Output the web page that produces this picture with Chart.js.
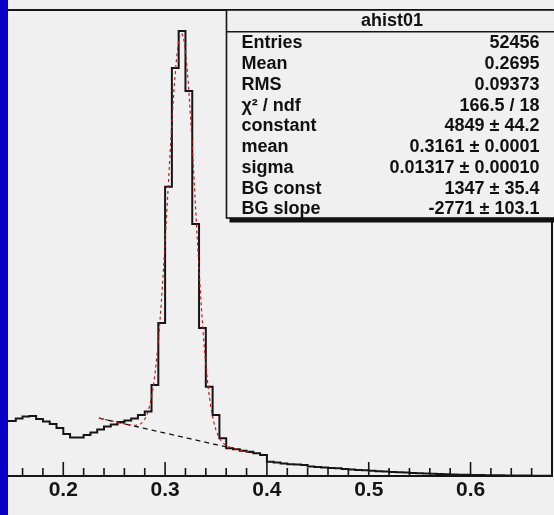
<!DOCTYPE html>
<html>
<head>
<meta charset="utf-8">
<script src="https://cdn.jsdelivr.net/npm/chart.js@4.4.1/dist/chart.umd.min.js"></script>
<style>
  html, body { margin: 0; padding: 0; background: #f0f0f0; }
  #wrap { position: relative; width: 554px; height: 515px; overflow: hidden; }
  #edge { position: absolute; left: 0; top: 0; width: 8px; height: 515px; background: #0800c8; }
</style>
</head>
<body>
<div id="wrap">
  <canvas id="c" width="554" height="515"></canvas>
  <div id="edge"></div>
</div>
<script>
// Histogram "ahist01": 150 bins over [0, 1]; counts listed from bin 21 (x = 0.14) onward.
const binWidth = 1 / 150;
const firstBin = 21;
const counts = [
  661, 661, 691, 715, 721, 685, 655, 625, 577, 505,
  463, 463, 493, 523, 559, 595, 619, 649, 667, 691,
  733, 775, 1094, 1839, 3477, 4903, 5348, 4627, 3028, 1779,
  1073, 733, 453, 333, 321, 304, 292, 273, 252, 172,
  162, 150, 141, 138, 132, 114, 108, 102, 96, 93,
  84, 78, 72, 68, 62, 58, 54, 48, 44, 42,
  36, 34, 30, 26, 24, 20, 18, 16, 14, 12,
  11, 10, 9, 8, 7, 6, 6, 5, 4, 4, 3
];

// Fit: gaus + pol1 background, fitted over [fitLow, fitHigh]
const gausConst = 4849, gausMean = 0.3161, gausSigma = 0.01317;
const bgConst = 1347, bgSlope = -2771;
const fitLow = 0.235, fitHigh = 0.385;

// Stats box
const statTitle = 'ahist01';
const statNames = ['Entries', 'Mean', 'RMS', 'χ² / ndf', 'constant', 'mean', 'sigma', 'BG const', 'BG slope'];
const statValues = [
  '52456', '0.2695', '0.09373', '166.5 / 18',
  gausConst + ' ± 44.2', gausMean.toFixed(4) + ' ± 0.0001', gausSigma.toFixed(5) + ' ± 0.00010',
  bgConst + ' ± 35.4', bgSlope + ' ± 103.1'
];

// Axis
const xMin = 0.1457, xMax = 0.68, yMax = 5600;
const majorTicks = [0.2, 0.3, 0.4, 0.5, 0.6];
const minorTicks = [0.16, 0.18, 0.22, 0.24, 0.26, 0.28, 0.32, 0.34, 0.36, 0.38,
                    0.42, 0.44, 0.46, 0.48, 0.52, 0.54, 0.56, 0.58, 0.62, 0.64, 0.66];

const isMajor = v => majorTicks.some(m => Math.abs(m - v) < 1e-6);

// Each point sits on a bin's upper edge; the first point opens the lowest bin.
const histPts = [{ x: firstBin * binWidth, y: counts[0] }];
counts.forEach((c, i) => histPts.push({ x: (firstBin + i + 1) * binWidth, y: c }));

const bgFn = x => bgConst + bgSlope * x;
const fitFn = x => gausConst * Math.exp(-0.5 * Math.pow((x - gausMean) / gausSigma, 2)) + bgFn(x);
const fitPts = [], bgPts = [];
for (let i = 0; i <= 300; i++) {
  const x = fitLow + (fitHigh - fitLow) * i / 300;
  fitPts.push({ x, y: fitFn(x) });
  bgPts.push({ x, y: bgFn(x) });
}

const FONT = '"Liberation Sans", Arial, Helvetica, sans-serif';

const framePlugin = {
  id: 'frame',
  afterDatasetsDraw(chart) {
    const { ctx, chartArea: a, scales: { x } } = chart;
    ctx.save();
    ctx.strokeStyle = '#151515';
    ctx.lineWidth = 2;
    ctx.beginPath();
    ctx.moveTo(a.left, a.top); ctx.lineTo(a.right, a.top); ctx.lineTo(a.right, a.bottom);
    ctx.moveTo(a.left, a.bottom); ctx.lineTo(a.right + 1, a.bottom);
    ctx.stroke();
    ctx.lineWidth = 1.6;
    ctx.beginPath();
    [...majorTicks, ...minorTicks].forEach(v => {
      const px = x.getPixelForValue(v);
      const len = isMajor(v) ? 14 : 8;
      ctx.moveTo(px, a.bottom); ctx.lineTo(px, a.bottom - len);
    });
    ctx.stroke();
    ctx.restore();
  }
};

const statsPlugin = {
  id: 'stats',
  afterDraw(chart) {
    const { ctx } = chart;
    const L = 226.5, T = 10, R = 558, B = 218, head = 31.7, rowH = 20.75;
    ctx.save();
    ctx.fillStyle = '#111';
    ctx.fillRect(L + 3, B, R - L, 4.5);
    ctx.fillStyle = '#f0f0f0';
    ctx.fillRect(L, T, R - L, B - T);
    ctx.strokeStyle = '#151515';
    ctx.lineWidth = 1.6;
    ctx.strokeRect(L, T, R - L, B - T);
    ctx.beginPath(); ctx.moveTo(L, head); ctx.lineTo(R, head); ctx.stroke();
    ctx.fillStyle = '#111';
    ctx.font = 'bold 18px ' + FONT;
    ctx.textBaseline = 'middle';
    ctx.textAlign = 'center';
    ctx.fillText(statTitle, 392, 21.5);
    statNames.forEach((n, i) => {
      const y = 43.5 + i * rowH;
      ctx.textAlign = 'left';
      ctx.fillText(n, 241.5, y);
      ctx.textAlign = 'right';
      ctx.fillText(statValues[i], 539.5, y);
    });
    ctx.restore();
  }
};

new Chart(document.getElementById('c'), {
  type: 'line',
  data: {
    datasets: [
      { label: 'fit', data: fitPts, borderColor: '#c81818', borderWidth: 1.2, borderDash: [3, 3], pointRadius: 0, tension: 0 },
      { label: 'background', data: bgPts, borderColor: '#151515', borderWidth: 1.3, borderDash: [5, 4], pointRadius: 0, tension: 0 },
      { label: statTitle, data: histPts, stepped: 'after', borderColor: '#151515', borderWidth: 2, pointRadius: 0, fill: false }
    ]
  },
  options: {
    responsive: false,
    animation: false,
    devicePixelRatio: 1,
    layout: { padding: { left: 8, right: 2, top: 10, bottom: 0 } },
    plugins: { legend: { display: false }, tooltip: { enabled: false } },
    scales: {
      x: {
        type: 'linear', min: xMin, max: xMax,
        afterFit(s) { s.height = 39; },
        afterBuildTicks(s) { s.ticks = majorTicks.map(v => ({ value: v })); },
        ticks: {
          autoSkip: false, maxRotation: 0, padding: 2, color: '#151515',
          font: { family: FONT, size: 21, weight: 'bold' },
          callback: v => isMajor(v) ? v.toFixed(1) : ''
        },
        grid: { display: false, drawTicks: false },
        border: { display: false }
      },
      y: { display: false, min: 0, max: yMax }
    }
  },
  plugins: [framePlugin, statsPlugin]
});
</script>
</body>
</html>
